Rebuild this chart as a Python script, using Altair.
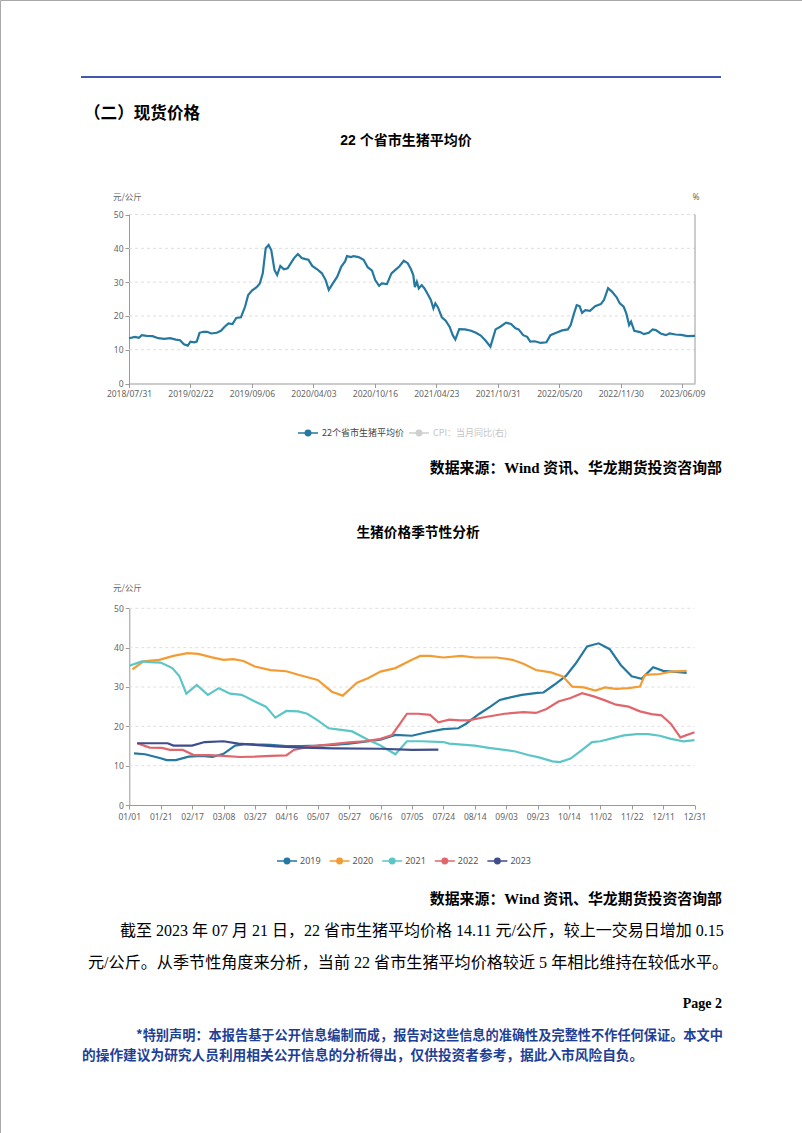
import altair as alt
import pandas as pd

# ---------------- data: chart 1 (22 provinces average hog price) ----------------
c1_dates = [
    "2018/07/31", "2018/08/20", "2018/09/02", "2018/09/12", "2018/09/28", "2018/10/18",
    "2018/11/06", "2018/11/26", "2018/12/16", "2019/01/04", "2019/01/18", "2019/01/31",
    "2019/02/13", "2019/02/22", "2019/03/06", "2019/03/14", "2019/03/23", "2019/04/04",
    "2019/04/16", "2019/04/29", "2019/05/17", "2019/05/30", "2019/06/11", "2019/06/23",
    "2019/07/06", "2019/07/18", "2019/08/02", "2019/08/15", "2019/08/25", "2019/09/06",
    "2019/09/22", "2019/10/03", "2019/10/13", "2019/10/23", "2019/11/02", "2019/11/11",
    "2019/11/22", "2019/12/01", "2019/12/12", "2019/12/24", "2020/01/06", "2020/01/17",
    "2020/01/28", "2020/02/10", "2020/02/23", "2020/03/07", "2020/03/17", "2020/03/30",
    "2020/04/15", "2020/04/30", "2020/05/12", "2020/05/22", "2020/06/04", "2020/06/18",
    "2020/07/01", "2020/07/13", "2020/07/19", "2020/08/01", "2020/08/09", "2020/08/25",
    "2020/09/10", "2020/09/23", "2020/10/07", "2020/10/17", "2020/10/29", "2020/11/06",
    "2020/11/22", "2020/12/06", "2020/12/18", "2020/12/30", "2021/01/13", "2021/01/25",
    "2021/02/04", "2021/02/11", "2021/02/16", "2021/02/22", "2021/02/28", "2021/03/09",
    "2021/03/17", "2021/03/29", "2021/04/06", "2021/04/14", "2021/04/20", "2021/04/28",
    "2021/05/10", "2021/05/22", "2021/06/03", "2021/06/13", "2021/06/21", "2021/07/03",
    "2021/07/21", "2021/08/09", "2021/08/24", "2021/09/08", "2021/09/22", "2021/10/08",
    "2021/10/24", "2021/11/08", "2021/11/27", "2021/12/13", "2021/12/28", "2022/01/07",
    "2022/01/22", "2022/02/04", "2022/02/14", "2022/03/01", "2022/03/20", "2022/04/08",
    "2022/04/21", "2022/05/10", "2022/05/29", "2022/06/16", "2022/06/25", "2022/07/04",
    "2022/07/14", "2022/07/23", "2022/07/31", "2022/08/10", "2022/08/25", "2022/09/10",
    "2022/09/28", "2022/10/08", "2022/10/21", "2022/11/02", "2022/11/17", "2022/11/27",
    "2022/12/09", "2022/12/17", "2022/12/26", "2023/01/01", "2023/01/11", "2023/01/29",
    "2023/02/10", "2023/02/25", "2023/03/09", "2023/03/19", "2023/04/03", "2023/04/19",
    "2023/05/01", "2023/05/19", "2023/06/06", "2023/06/26", "2023/07/21",
]
c1_values = [
    13.4, 13.8, 13.5, 14.3, 14.1, 14.0,
    13.4, 13.2, 13.4, 13.0, 12.8, 11.6,
    11.2, 12.4, 12.2, 12.4, 15.0, 15.3,
    15.3, 14.8, 15.0, 15.6, 16.8, 17.8,
    17.6, 19.4, 19.6, 22.7, 26.2, 27.5,
    28.5, 29.6, 32.6, 40.0, 41.0, 39.5,
    33.6, 32.1, 34.8, 33.8, 34.1, 35.6,
    37.1, 38.3, 37.1, 36.8, 36.6, 34.8,
    33.8, 32.6, 30.6, 27.7, 29.6, 31.6,
    34.6, 36.1, 37.7, 37.4, 37.7, 37.4,
    36.6, 34.4, 33.4, 30.6, 28.9, 29.6,
    29.4, 32.6, 33.6, 34.6, 36.3, 35.6,
    33.8, 32.1, 28.5, 30.1, 28.1, 29.1,
    28.2, 26.2, 24.7, 22.2, 23.7, 22.5,
    19.6, 18.6, 16.8, 14.3, 13.0, 16.1,
    16.0, 15.6, 15.0, 14.2, 12.8, 10.9,
    16.0, 16.8, 18.0, 17.6, 16.3, 16.0,
    14.3, 13.8, 12.4, 12.5, 12.0, 12.2,
    14.3, 15.0, 15.7, 16.0, 17.3, 20.3,
    23.2, 22.9, 20.9, 21.7, 21.5, 22.9,
    23.5, 24.7, 28.2, 27.2, 25.5, 23.7,
    22.7, 20.8, 17.3, 18.3, 15.6, 15.2,
    14.6, 15.0, 16.0, 15.8, 14.8, 14.3,
    14.8, 14.5, 14.4, 14.0, 14.1,
]
TICKS1 = ["2018/07/31", "2019/02/22", "2019/09/06", "2020/04/03", "2020/10/16",
          "2021/04/23", "2021/10/31", "2022/05/20", "2022/11/30", "2023/06/09"]
END1 = "2023/07/21"

# ---------------- data: chart 2 (seasonality) ----------------
YEARS = ["2019", "2020", "2021", "2022", "2023"]
COLORS = ["#25789f", "#f39c33", "#5cc6c6", "#e0666c", "#3f4d8c"]

d2019 = ["01/04", "01/11", "01/21", "01/26", "02/03", "02/14", "02/23", "03/01", "03/08", "03/15",
         "03/22", "03/27", "04/06", "04/16", "04/26", "05/07", "05/17", "05/27", "06/06", "06/16",
         "06/25", "07/05", "07/14", "07/24", "08/03", "08/08", "08/17", "08/24", "08/30", "09/03",
         "09/13", "09/23", "09/27", "10/04", "10/12", "10/18", "10/25", "11/01", "11/08", "11/15",
         "11/22", "11/28", "12/05", "12/11", "12/21", "12/26"]
v2019 = [13.1, 12.9, 11.9, 11.4, 11.4, 12.3, 12.5, 12.2, 13.0, 15.1,
         15.5, 15.4, 15.3, 15.0, 15.0, 15.1, 15.3, 15.6, 16.1, 16.6,
         17.8, 17.6, 18.5, 19.3, 19.5, 20.6, 23.2, 25.0, 26.7, 27.1,
         28.0, 28.5, 28.6, 30.5, 32.8, 35.9, 40.3, 41.1, 39.6, 35.6,
         32.7, 32.1, 35.0, 34.1, 33.8, 33.6]

d2020 = ["01/03", "01/10", "01/20", "02/01", "02/13", "02/21", "02/29", "03/08", "03/14", "03/20",
         "03/27", "04/06", "04/16", "04/24", "05/07", "05/16", "05/23", "06/01", "06/08", "06/16",
         "06/25", "07/05", "07/10", "07/16", "07/24", "08/05", "08/14", "08/23", "08/28", "09/07",
         "09/14", "09/22", "10/02", "10/10", "10/16", "10/23", "10/30", "11/05", "11/12", "11/20",
         "11/27", "11/30", "12/09", "12/16", "12/26"]
v2020 = [34.5, 36.5, 36.9, 37.9, 38.6, 38.4, 37.6, 36.9, 37.1, 36.6,
         35.2, 34.3, 34.0, 33.1, 31.8, 28.8, 27.8, 31.1, 32.2, 33.9,
         34.8, 36.9, 37.9, 37.9, 37.5, 37.9, 37.5, 37.5, 37.5, 36.9,
         35.9, 34.3, 33.7, 32.7, 30.1, 29.9, 29.1, 29.9, 29.5, 29.7,
         30.1, 33.1, 33.3, 33.9, 34.1]

d2021 = ["01/01", "01/09", "01/14", "01/21", "01/31", "02/06", "02/12", "02/20", "02/27", "03/05",
         "03/12", "03/19", "03/27", "04/03", "04/09", "04/16", "04/24", "04/30", "05/07", "05/14",
         "05/22", "05/29", "06/08", "06/16", "06/25", "07/02", "07/11", "07/24", "07/28", "08/14",
         "08/23", "09/02", "09/09", "09/17", "09/24", "10/03", "10/08", "10/15", "10/22", "10/28",
         "11/02", "11/10", "11/17", "11/25", "12/02", "12/09", "12/16", "12/24", "12/31"]
v2021 = [35.4, 36.5, 36.3, 36.2, 34.8, 32.8, 28.3, 30.5, 28.0, 29.7,
         28.3, 28.0, 26.3, 25.0, 22.2, 23.9, 23.8, 23.2, 21.5, 19.5,
         19.1, 18.7, 16.6, 15.1, 12.9, 16.2, 16.2, 16.0, 15.6, 15.1,
         14.5, 14.0, 13.6, 12.7, 12.1, 11.1, 10.9, 11.8, 14.0, 16.0,
         16.2, 17.0, 17.7, 18.0, 18.0, 17.6, 16.8, 16.2, 16.5]

d2022 = ["01/06", "01/14", "01/22", "01/29", "02/09", "02/18", "02/28", "03/08", "03/18", "03/27",
         "04/06", "04/16", "04/21", "05/02", "05/12", "05/27", "06/06", "06/16", "06/23", "07/02",
         "07/09", "07/16", "07/21", "07/28", "08/04", "08/10", "08/20", "09/02", "09/14", "09/22",
         "09/29", "10/07", "10/15", "10/22", "10/29", "11/05", "11/12", "11/20", "11/27", "12/04",
         "12/10", "12/16", "12/22", "12/31"]
v2022 = [15.7, 14.6, 14.5, 14.0, 14.0, 12.7, 12.7, 12.5, 12.2, 12.3,
         12.5, 12.6, 14.0, 14.9, 15.3, 15.9, 16.2, 16.8, 17.8, 23.2,
         23.2, 22.9, 21.0, 21.7, 21.5, 21.5, 22.3, 23.2, 23.6, 23.4,
         24.4, 26.3, 27.2, 28.4, 27.6, 26.6, 25.5, 25.0, 23.8, 23.1,
         22.8, 20.6, 17.2, 18.5]

d2023 = ["01/06", "01/13", "01/27", "02/01", "02/17", "02/25", "03/08", "03/17", "03/27", "04/09",
         "04/27", "05/17", "06/16", "07/05", "07/21"]
v2023 = [15.7, 15.7, 15.7, 15.1, 15.1, 16.0, 16.2, 15.6, 15.3, 14.9,
         14.6, 14.4, 14.3, 14.0, 14.1]

TICKS2 = ["01/01", "01/21", "02/17", "03/08", "03/27", "04/16", "05/07", "05/27", "06/16", "07/05",
          "07/24", "08/14", "09/03", "09/23", "10/14", "11/02", "11/22", "12/11", "12/31"]
Y_TICKS = [0, 10, 20, 30, 40, 50]
GRID = [10, 20, 30, 40, 50]


# ---------------- build tables (dates -> epoch ms, UTC) ----------------
def ms(s):
    return int(pd.Timestamp(s.replace("/", "-")).value // 10**6)


df1 = pd.DataFrame({"t": [ms(d) for d in c1_dates], "value": c1_values})
BASE_YEAR = "2020/"  # dummy (leap) year for the seasonal axis
rows = []
for yr, ds, vs in zip(YEARS, [d2019, d2020, d2021, d2022, d2023],
                      [v2019, v2020, v2021, v2022, v2023]):
    for d, v in zip(ds, vs):
        rows.append({"year": yr, "t": ms(BASE_YEAR + d), "value": v})
df2 = pd.DataFrame(rows)
one = pd.DataFrame({"a": [0]})

SANS = "'Noto Sans CJK SC'"
SERIF = "'Liberation Serif', 'Noto Sans CJK SC'"
HEAD = "'Liberation Sans', 'Noto Sans CJK SC'"
AXIS_FONT = "Noto Sans"
W, H = 802, 1133

# ---------------- layout constants ----------------
X1L, X1R = 129, 695
Y1B, Y1T = 383.5, 214.5
step1 = 61.47
x1_range = [X1L + i * step1 for i in range(len(TICKS1))] + [X1R]

X2L, X2R = 129.3, 694.5
Y2B, Y2T = 805, 608.3
step2 = (X2R - X2L) / (len(TICKS2) - 1)
x2_range = [X2L + i * step2 for i in range(len(TICKS2))]


def txt(s, x, y, size, color="#000", weight="normal", align="left", font=SANS):
    return alt.Chart(one).mark_text(
        text=s, fontSize=size, color=color, fontWeight=weight, align=align,
        baseline="middle", font=font
    ).encode(x=alt.value(x), y=alt.value(y))


def hrule(x1, x2, y, color, width=1.0):
    return alt.Chart(one).mark_rule(color=color, strokeWidth=width).encode(
        x=alt.value(x1), x2=alt.value(x2), y=alt.value(y))


def vrule(x, y1, y2, color, width=1.0):
    return alt.Chart(one).mark_rule(color=color, strokeWidth=width).encode(
        x=alt.value(x), y=alt.value(y1), y2=alt.value(y2))


def dot(x, y, color, size=48):
    return alt.Chart(one).mark_point(filled=True, size=size, color=color, opacity=1).encode(
        x=alt.value(x), y=alt.value(y))


axis_common = dict(labelFontSize=8.5, labelColor="#666", labelFont=AXIS_FONT,
                   domainColor="#9a9a9a", tickColor="#9a9a9a", tickSize=4,
                   grid=False, title=None, labelOverlap=False)

# ---------------- chart 1 ----------------
tick1_ms = [ms(t) for t in TICKS1]
y1s = alt.Scale(domain=[0, 50], range=[Y1B, Y1T], nice=False, zero=False)
x1s = alt.Scale(domain=tick1_ms + [ms(END1)], range=x1_range, nice=False, zero=False)

grid1 = alt.Chart(pd.DataFrame({"g": GRID})).mark_rule(
    color="#dedede", strokeDash=[3, 3], strokeWidth=1
).encode(y=alt.Y("g:Q", scale=y1s, axis=None), x=alt.value(X1L), x2=alt.value(X1R))

line1 = alt.Chart(df1).mark_line(color=COLORS[0], strokeWidth=2.2).encode(
    x=alt.X("t:Q", scale=x1s,
            axis=alt.Axis(values=tick1_ms, labelExpr="utcFormat(datum.value, '%Y/%m/%d')",
                          orient="bottom", offset=Y1B - H, labelPadding=2,
                          labelFlush=False, **axis_common)),
    y=alt.Y("value:Q", scale=y1s,
            axis=alt.Axis(values=Y_TICKS, orient="left", offset=-X1L, labelPadding=2,
                          **axis_common)),
)

# ---------------- chart 2 ----------------
tick2_ms = [ms(BASE_YEAR + t) for t in TICKS2]
y2s = alt.Scale(domain=[0, 50], range=[Y2B, Y2T], nice=False, zero=False)
x2s = alt.Scale(domain=tick2_ms, range=x2_range, nice=False, zero=False)

grid2 = alt.Chart(pd.DataFrame({"g": GRID})).mark_rule(
    color="#dedede", strokeDash=[3, 3], strokeWidth=1
).encode(y=alt.Y("g:Q", scale=y2s, axis=None), x=alt.value(X2L), x2=alt.value(X2R))

line2 = alt.Chart(df2).mark_line(strokeWidth=2.2).encode(
    x=alt.X("t:Q", scale=x2s,
            axis=alt.Axis(values=tick2_ms, labelExpr="utcFormat(datum.value, '%m/%d')",
                          orient="bottom", offset=Y2B - H, labelPadding=3,
                          labelFlush=False, **axis_common)),
    y=alt.Y("value:Q", scale=y2s,
            axis=alt.Axis(values=Y_TICKS, orient="left", offset=-X2L, labelPadding=2,
                          **axis_common)),
    color=alt.Color("year:N", scale=alt.Scale(domain=YEARS, range=COLORS), legend=None),
)

layers = [
    # header
    hrule(81, 721, 77, "#4357b2", 2),
    txt("（二）现货价格", 84, 114, 16.6, weight="bold"),
    txt("22 个省市生猪平均价", 406, 141, 14, weight="bold", align="center", font=HEAD),
    # chart 1
    txt("元/公斤", 113, 197, 8.5, color="#666"),
    txt("%", 696, 197, 8.5, color="#666", align="center", font=AXIS_FONT),
    grid1,
    vrule(X1R, Y1T, Y1B, "#9a9a9a"),
    line1,
    # legend 1
    hrule(298, 318, 433, COLORS[0], 1.5), dot(308, 433, COLORS[0]),
    txt("22个省市生猪平均价", 322, 433, 9, color="#444"),
    hrule(409, 429, 433, "#cfcfcf", 1.5), dot(419, 433, "#cfcfcf"),
    txt("CPI：当月同比(右)", 433, 433, 9, color="#c4c4c4"),
    txt("数据来源：Wind 资讯、华龙期货投资咨询部", 722, 469, 14.9, weight="bold",
        align="right", font=SERIF),
    # chart 2
    txt("生猪价格季节性分析", 418, 533, 13.7, weight="bold", align="center", font=HEAD),
    txt("元/公斤", 113, 588, 8.5, color="#666"),
    grid2,
    line2,
]
# legend 2
for i, (yr, col) in enumerate(zip(YEARS, COLORS)):
    cx = 287 + 52.6 * i
    layers += [hrule(cx - 10, cx + 10, 861, col, 1.5), dot(cx, 861, col),
               txt(yr, cx + 13, 861, 9, color="#555", font=AXIS_FONT)]

layers += [
    txt("数据来源：Wind 资讯、华龙期货投资咨询部", 722, 900, 14.9, weight="bold",
        align="right", font=SERIF),
    txt("截至 2023 年 07 月 21 日，22 省市生猪平均价格 14.11 元/公斤，较上一交易日增加 0.15",
        120, 931, 16, font=SERIF),
    txt("元/公斤。从季节性角度来分析，当前 22 省市生猪平均价格较近 5 年相比维持在较低水平。",
        88, 963, 16.1, font=SERIF),
    txt("Page 2", 722, 1004, 14, weight="bold", align="right", font=SERIF),
    txt("*特别声明：本报告基于公开信息编制而成，报告对这些信息的准确性及完整性不作任何保证。本文中",
        136, 1036, 13.2, color="#1f3f96", weight="bold"),
    txt("的操作建议为研究人员利用相关公开信息的分析得出，仅供投资者参考，据此入市风险自负。",
        82, 1056, 13.7, color="#1f3f96", weight="bold"),
]

chart = alt.layer(*layers).resolve_scale(
    x="independent", y="independent", color="independent"
).properties(
    width=W, height=H, autosize=alt.AutoSizeParams(type="none"), padding=0,
    background="white",
).configure_view(stroke="#a8a8a8", strokeWidth=1)

chart.save("out.html", embed_options={"renderer": "svg", "actions": False})
